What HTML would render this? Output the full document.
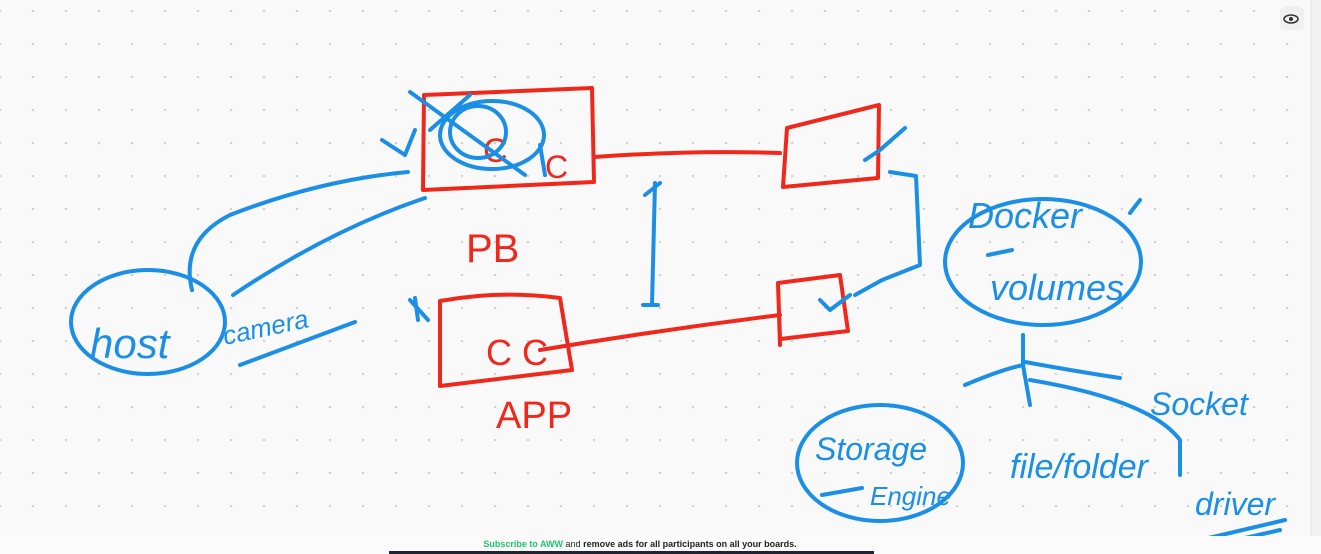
<!DOCTYPE html>
<html><head><meta charset="utf-8"><style>
html,body{margin:0;padding:0;width:1321px;height:554px;overflow:hidden;background:#f9f9f9;}
svg{position:absolute;left:0;top:0}
.b{fill:none;stroke:#1b8fe6;stroke-width:4;stroke-linecap:round;stroke-linejoin:round}
.r{fill:none;stroke:#f0281c;stroke-width:4;stroke-linecap:round;stroke-linejoin:round}
.tb{fill:#1b8fe6;font-family:"Liberation Sans",sans-serif;font-style:italic}
.tr{fill:#f0281c;font-family:"Liberation Sans",sans-serif}
</style></head><body>
<svg width="1321" height="554" viewBox="0 0 1321 554">
<defs><pattern id="d" width="33" height="33" patternUnits="userSpaceOnUse" x="-2" y="10"><circle cx="2" cy="1" r="1.2" fill="#cfcfcf"/></pattern></defs>
<rect width="1321" height="554" fill="url(#d)"/>
<rect x="1311" y="0" width="10" height="554" fill="#f2f2f2"/>
<line x1="1311" y1="0" x2="1311" y2="554" stroke="#e4e4e4"/>
<rect x="1280" y="6" width="24" height="24" rx="5" fill="#f0f0f0"/>
<ellipse cx="1291" cy="19" rx="7" ry="4" fill="none" stroke="#333" stroke-width="1.5"/><circle cx="1291" cy="19" r="2" fill="#333"/>
<!-- red boxes -->
<path class="r" d="M424 95 L592 88 L594 182 L423 190 Z"/>
<path class="r" d="M594 157 Q690 150 780 153"/>
<path class="r" d="M787 128 L879 105 L878 178 L783 187 Z"/>
<path class="r" d="M440 301 Q500 290 560 298 L572 370 L440 386 Z"/>
<path class="r" d="M540 350 Q660 330 780 315"/>
<path class="r" d="M778 283 L840 275 L848 331 L780 339 Z M778 283 L780 345"/>
<text class="tr" x="466" y="262" font-size="40">PB</text>
<text class="tr" x="496" y="428" font-size="38">APP</text>
<text class="tr" x="483" y="162" font-size="34">C</text>
<text class="tr" x="486" y="365" font-size="36">C C</text>
<text class="tr" x="545" y="178" font-size="32">C</text>
<!-- blue scribbles in top box -->
<ellipse class="b" cx="492" cy="135" rx="52" ry="34"/>
<ellipse class="b" cx="478" cy="132" rx="28" ry="26"/>
<path class="b" d="M410 92 L525 175 M430 130 L470 95 M382 140 L405 155 L415 130 M540 145 L545 175"/>
<!-- connectors -->
<path class="b" d="M192 290 Q180 240 230 215 Q320 180 408 172"/>
<path class="b" d="M233 295 Q330 230 425 198"/>
<path class="b" d="M655 183 L652 305 M645 195 L660 183 M643 305 L658 305"/>
<path class="b" d="M890 172 L916 176 L920 265 L882 280 L855 295"/>
<path class="b" d="M865 160 L880 150 L905 128"/>
<path class="b" d="M820 300 L830 310 L850 295"/>
<path class="b" d="M415 298 L418 320 M410 300 L428 320"/>
<!-- host -->
<ellipse class="b" cx="148" cy="322" rx="77" ry="52"/>
<text class="tb" x="90" y="358" font-size="42">host</text>
<text class="tb" x="225" y="345" font-size="26" transform="rotate(-12 225 345)">camera</text>
<path class="b" d="M240 365 L355 322"/>
<!-- docker -->
<ellipse class="b" cx="1043" cy="262" rx="98" ry="63"/>
<text class="tb" x="968" y="228" font-size="36">Docker</text>
<text class="tb" x="990" y="300" font-size="36">volumes</text>
<path class="b" d="M988 255 L1012 250 M1130 213 L1140 200"/>
<path class="b" d="M1023 335 L1023 365 Q1000 370 965 385 M1023 365 L1030 405 M1025 362 Q1080 372 1120 378 M1030 380 Q1150 400 1180 440 L1180 475"/>
<text class="tb" x="1150" y="415" font-size="32">Socket</text>
<text class="tb" x="1010" y="478" font-size="34">file/folder</text>
<ellipse class="b" cx="880" cy="463" rx="83" ry="58"/>
<text class="tb" x="815" y="460" font-size="32">Storage</text>
<text class="tb" x="870" y="505" font-size="26">Engine</text>
<path class="b" d="M822 495 L862 488"/>
<text class="tb" x="1195" y="515" font-size="32">driver</text>
<path class="b" d="M1200 540 L1285 520 M1210 546 L1280 530"/>
<!-- banner -->
<rect x="0" y="536" width="1321" height="18" fill="#fbfbfb"/>
<text x="640" y="547" text-anchor="middle" font-family="Liberation Sans,sans-serif" font-size="9" font-weight="bold" fill="#222"><tspan fill="#1ec46a">Subscribe to AWW</tspan><tspan font-weight="normal"> and </tspan>remove ads for all participants on all your boards.</text>
<rect x="389" y="551" width="485" height="3" fill="#1e2530"/>
</svg>
</body></html>
